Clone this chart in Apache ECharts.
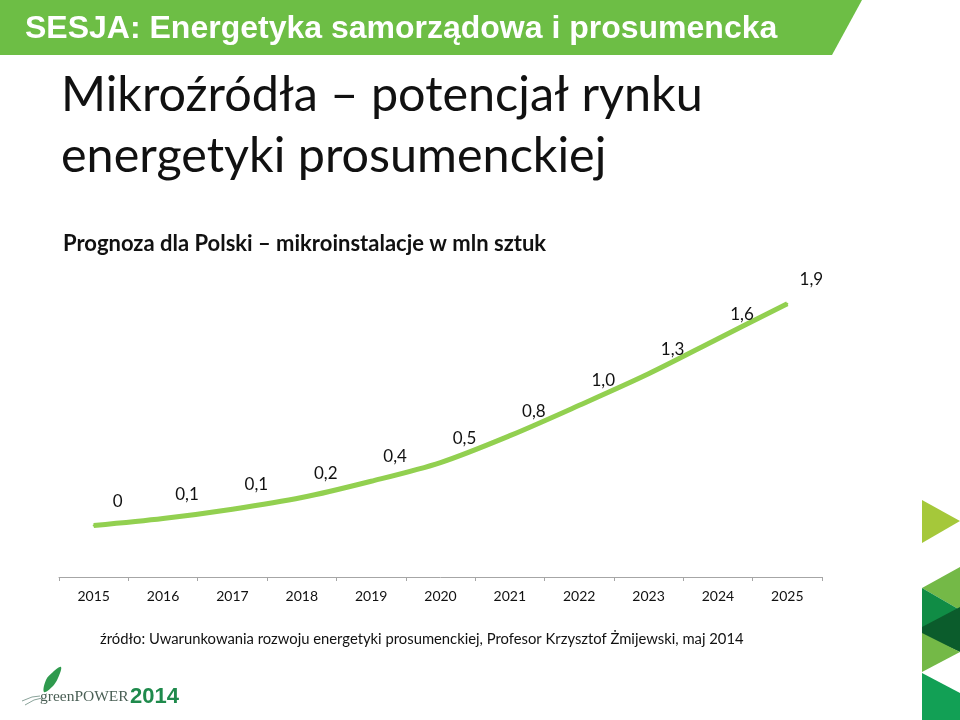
<!DOCTYPE html>
<html>
<head>
<meta charset="utf-8">
<script src="https://cdn.jsdelivr.net/npm/echarts@6/dist/echarts.min.js"></script>
<style>
html,body{margin:0;padding:0;background:#fff;}
#chart{width:960px;height:720px;}
</style>
</head>
<body>
<div id="chart"></div>
<script>
// Forecast for Poland – micro-installations, millions of units
// (labels in the source are rounded to one decimal; values estimated from the curve)
const years = ['2015','2016','2017','2018','2019','2020','2021','2022','2023','2024','2025'];
const installations = [0, 0.06, 0.14, 0.24, 0.38, 0.54, 0.77, 1.03, 1.3, 1.6, 1.9];
const headerText = 'SESJA: Energetyka samorządowa i prosumencka';
const titleText = 'Mikroźródła – potencjał rynku\nenergetyki prosumenckiej';
const subtitleText = 'Prognoza dla Polski – mikroinstalacje w mln sztuk';
const sourceText = 'źródło: Uwarunkowania rozwoju energetyki prosumenckiej, Profesor Krzysztof Żmijewski, maj 2014';

const chart = echarts.init(document.getElementById('chart'), null, {renderer:'canvas'});

function fmt(v){ return v === 0 ? '0' : (Math.round(v * 10) / 10).toFixed(1).replace('.', ','); }

const option = {
  backgroundColor: '#ffffff',
  animation: false,
  title: [
    {
      text: titleText, left: 56, top: 60,
      textStyle: {fontFamily: 'Lato', fontWeight: 'normal', fontSize: 48.5, color: '#111', lineHeight: 61}
    },
    {
      text: subtitleText, left: 58, top: 228,
      textStyle: {fontFamily: 'Lato', fontWeight: 'bold', fontSize: 22, color: '#111'}
    }
  ],
  grid: {left: 59, right: 138, top: 292, bottom: 143},
  xAxis: {
    type: 'category',
    data: years,
    boundaryGap: true,
    axisLine: {onZero: false, lineStyle: {color: '#a6a6a6', width: 1}},
    axisTick: {show: true, length: 4, lineStyle: {color: '#a6a6a6'}},
    axisLabel: {fontFamily: 'Lato', fontSize: 14, color: '#111', margin: 12}
  },
  yAxis: {
    type: 'value', min: -0.44, max: 2.0,
    show: false, splitLine: {show: false}
  },
  series: [{
    type: 'line',
    data: installations,
    smooth: 0.3,
    symbol: 'circle',
    symbolSize: 2,
    showSymbol: true,
    itemStyle: {color: '#92d050'},
    lineStyle: {color: '#92d050', width: 5},
    label: {
      show: true, position: 'top', offset: [24, -10],
      formatter: p => fmt(p.value),
      fontFamily: 'Lato', fontSize: 17, color: '#111'
    }
  }],
  graphic: [
    {type: 'polygon', shape: {points: [[0,0],[862,0],[832,55],[0,55]]}, style: {fill: '#6dbe45'}},
    {type: 'text', style: {x: 25, y: 13, text: headerText, fill: '#ffffff', font: 'bold 32px "Liberation Sans", Arial, sans-serif'}},
    {type: 'text', style: {x: 100, y: 632, text: sourceText, fill: '#111', font: '14.8px Lato, sans-serif'}},
    // logo
    {type: 'polygon', shape: {points: [[44,692],[46,680],[53,672],[61,667],[58,678],[52,687]], smooth: 0.4}, style: {fill: '#2f9a4e'}},
    {type: 'polyline', shape: {points: [[22,701],[32,697],[40,696]]}, style: {stroke: '#8aa39a', lineWidth: 1, fill: null}},
    {type: 'polyline', shape: {points: [[25,705],[34,700],[42,698]]}, style: {stroke: '#8aa39a', lineWidth: 1, fill: null}},
    {type: 'text', style: {x: 40, y: 689, text: 'greenPOWER', fill: '#4a5f55', font: '15.5px "Liberation Serif", serif'}},
    {type: 'text', style: {x: 130, y: 686, text: '2014', fill: '#1f8a4c', font: 'bold 22px "Liberation Sans", Arial, sans-serif'}},
    // right decorations
    {type: 'polygon', shape: {points: [[922,500],[960,521],[922,543]]}, style: {fill: '#a5c83a'}},
    {type: 'polygon', shape: {points: [[960,567],[922,588],[960,610]]}, style: {fill: '#74b947'}},
    {type: 'polygon', shape: {points: [[922,588],[960,610],[922,630]]}, style: {fill: '#108c45'}},
    {type: 'polygon', shape: {points: [[960,607],[922,627],[922,635],[960,652]]}, style: {fill: '#0b5c2c'}},
    {type: 'polygon', shape: {points: [[922,633],[960,652],[922,672]]}, style: {fill: '#74b947'}},
    {type: 'polygon', shape: {points: [[922,673],[960,693],[960,720],[922,720]]}, style: {fill: '#12a055'}}
  ]
};
chart.setOption(option);
</script>
</body>
</html>
